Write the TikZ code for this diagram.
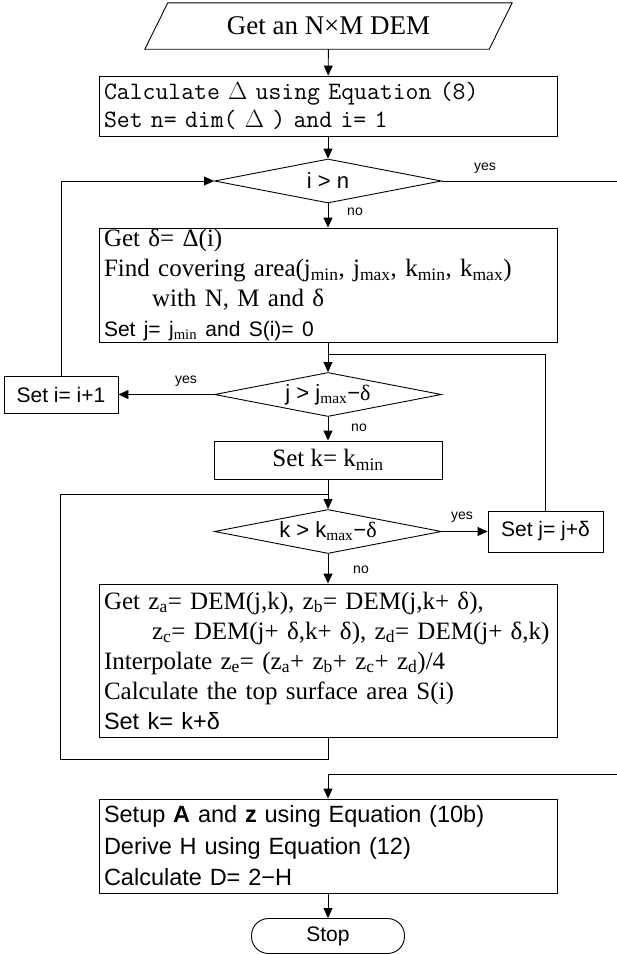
\documentclass[tikz,border=0pt]{standalone}
\usepackage{fontspec}
\setmainfont{Liberation Serif}
\setsansfont{Liberation Sans}
\usepackage{tikz}
\usetikzlibrary{shapes.geometric, arrows.meta, positioning}
\newcommand{\serifsz}{\rmfamily\fontsize{25}{30}\selectfont}
\newcommand{\sanssz}{\sffamily\fontsize{21}{30}\selectfont}
\newcommand{\sansbig}{\sffamily\fontsize{23.5}{31.5}\selectfont}
\newcommand{\monosz}{\ttfamily\fontsize{25}{28}\selectfont}
\newcommand{\lblsz}{\sffamily\fontsize{14}{16}\selectfont}
\newcommand{\indnt}{\hspace*{48pt}}
\newcommand{\sub}[1]{\textsubscript{\rmfamily #1}}
\tikzset{
  bigbox/.style={rectangle, draw, line width=0.9pt, minimum width=458pt,
    text width=448pt, inner xsep=5pt, inner ysep=0pt, align=left, font=\serifsz},
  smallbox/.style={rectangle, draw, line width=0.9pt, inner sep=0pt, align=center},
  decision/.style={diamond, draw, line width=0.9pt, aspect=5, inner sep=0pt,
    minimum width=227pt, minimum height=44pt, font=\sffamily\fontsize{22}{26}\selectfont},
  iotext/.style={rectangle, inner sep=0pt, minimum width=344pt, minimum height=46pt,
    font=\rmfamily\fontsize{27}{30}\selectfont},
  endbox/.style={rectangle, draw, line width=0.9pt, rounded corners=17pt,
    minimum width=153pt, minimum height=35pt, font=\sanssz},
  arrow/.style={-{Triangle[length=10pt,width=9pt]}, line width=0.9pt},
  line/.style={line width=0.9pt},
  lbl/.style={font=\lblsz, inner sep=0pt}
}
\begin{document}
\begin{tikzpicture}[x=1pt, y=-1pt]
  \useasboundingbox (0,0) rectangle (617,954);

  \node[iotext] (dem) at (328.5,26) {Get an N×M DEM};
  \draw[line] ([xshift=11.5pt]dem.north west) -- ([xshift=11.5pt]dem.north east)
    -- ([xshift=-11.5pt]dem.south east) -- ([xshift=-11.5pt]dem.south west) -- cycle;
  \node[bigbox, font=\monosz, minimum height=60pt] (calc) at (328,106)
    {Calculate {\rmfamily$\Delta$} using Equation (8)\\
     Set n= dim( {\rmfamily$\Delta$} ) and i= 1};
  \node[decision] (ichk) at (328,181) {i > n};
  \node[bigbox, minimum height=114pt] (cover) at (328,285)
    {Get δ= Δ(i)\\
     Find covering area(j\sub{min}, j\sub{max}, k\sub{min}, k\sub{max})\\
     \indnt with N, M and δ\\
     {\sanssz Set j= j\sub{min} and S(i)= 0}};
  \node[decision] (jchk) at (328,394.5) {j > j\sub{max}−{\rmfamily δ}};
  \node[smallbox, minimum width=114pt, minimum height=37pt, font=\sanssz]
    (inci) at (61,394.5) {Set i= i+1};
  \node[smallbox, minimum width=228pt, minimum height=38pt, font=\serifsz]
    (setk) at (328,460) {Set k= k\textsubscript{min}};
  \node[decision] (kchk) at (328,531.5) {k > k\sub{max}−{\rmfamily δ}};
  \node[smallbox, minimum width=115pt, minimum height=41pt, font=\sanssz]
    (incj) at (545.5,531.5) {Set j= j+δ};
  \node[bigbox, minimum height=153pt] (area) at (328,660.5)
    {Get z\textsubscript{a}= DEM(j,k), z\textsubscript{b}= DEM(j,k+ δ),\\
     \mbox{\hspace{48pt}z\textsubscript{c}= DEM(j+ δ,k+ δ), z\textsubscript{d}= DEM(j+ δ,k)}\\
     Interpolate z\textsubscript{e}= (z\textsubscript{a}+ z\textsubscript{b}+ z\textsubscript{c}+ z\textsubscript{d})/4\\
     Calculate the top surface area S(i)\\
     {\sansbig Set k= k+δ}};
  \node[bigbox, font=\sansbig, minimum height=94pt] (fdim) at (328,846)
    {Setup \textbf{A} and \textbf{z} using Equation (10b)\\
     Derive H using Equation (12)\\
     Calculate D= 2−H};
  \node[endbox] (stop) at (328,936) {Stop};

  \node[lbl] (yes1) at (485,168) {yes};
  \node[lbl] (no1) at (355,212) {no};
  \node[lbl] (yes2) at (186,381) {yes};
  \node[lbl] (no2) at (359,428) {no};
  \node[lbl] (yes3) at (462,517) {yes};
  \node[lbl] (no3) at (361,570) {no};

  \coordinate (jloop) at (328,354);
  \coordinate (kloop) at (328,494);
  \coordinate (kback) at (328,759);
  \coordinate (outtop) at (619,181);
  \coordinate (outbot) at (619,774);

  \draw[arrow] (dem) -- (calc);
  \draw[arrow] (calc) -- (ichk);
  \draw[arrow] (ichk) -- (cover);
  \draw[arrow] (cover) -- (jchk);
  \draw[arrow] (jchk) -- (inci);
  \draw[arrow] (inci) |- (ichk);
  \draw[arrow] (jchk) -- (setk);
  \draw[arrow] (setk) -- (kchk);
  \draw[arrow] (kchk) -- (incj);
  \draw[line] (incj) |- (jloop);
  \draw[arrow] (kchk) -- (area);
  \draw[line] (area) -- (kback) -- ++(-268,0) |- (kloop);
  \draw[arrow] (ichk) -- (outtop) -- (outbot) -| (fdim);
  \draw[arrow] (fdim) -- (stop);
\end{tikzpicture}
\end{document}
